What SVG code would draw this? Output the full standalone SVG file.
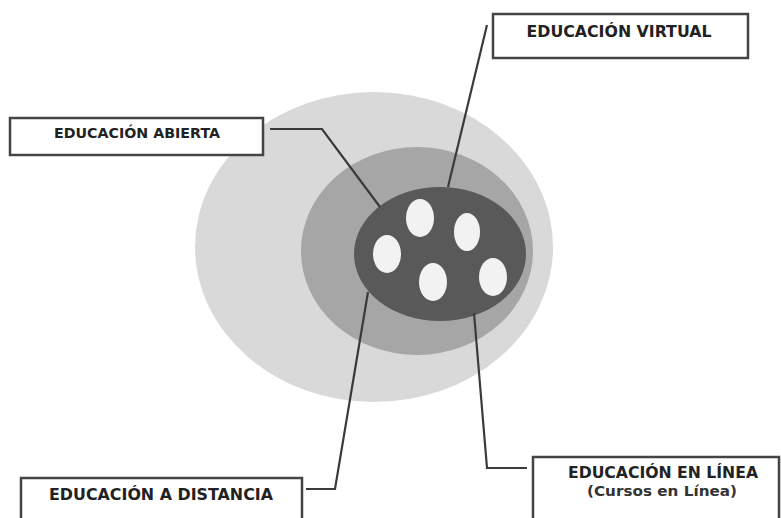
<svg xmlns="http://www.w3.org/2000/svg" width="781" height="518" viewBox="0 0 781 518">
<style>
.box{fill:#ffffff;stroke:#444444;stroke-width:2.5}
.lbl{font-family:"DejaVu Sans","Liberation Sans",sans-serif;font-weight:bold;fill:#222222;text-anchor:middle}
.sub{font-family:"DejaVu Sans","Liberation Sans",sans-serif;font-weight:bold;fill:#333333;text-anchor:middle}
.con{fill:none;stroke:#3a3a3a;stroke-width:2.2;stroke-linejoin:miter}
.spot{fill:#f2f2f2}
</style>
<rect width="781" height="518" fill="#ffffff"/>
<g id="circles">
<ellipse cx="374" cy="247" rx="179" ry="155" fill="#d9d9d9"/>
<ellipse cx="417" cy="251" rx="116" ry="104" fill="#a6a6a6"/>
<ellipse cx="440" cy="254" rx="86" ry="67" fill="#595959"/>
<ellipse class="spot" cx="420" cy="218" rx="14" ry="19"/>
<ellipse class="spot" cx="467" cy="232" rx="13" ry="19"/>
<ellipse class="spot" cx="387" cy="254" rx="14" ry="19"/>
<ellipse class="spot" cx="433" cy="282" rx="14" ry="19"/>
<ellipse class="spot" cx="493" cy="277" rx="14" ry="19"/>
</g>
<g id="connectors">
<polyline class="con" points="270,129 322,129 380,207"/>
<polyline class="con" points="487,25 448,187"/>
<polyline class="con" points="306,489 335,489 368,292"/>
<polyline class="con" points="474,313 487,468 527,468"/>
</g>
<g id="node-abierta">
<rect class="box" x="10" y="118" width="253" height="37"/>
<text class="lbl" x="137" y="138" font-size="13.5" textLength="166" lengthAdjust="spacingAndGlyphs">EDUCACIÓN ABIERTA</text>
</g>
<g id="node-virtual">
<rect class="box" x="493" y="14" width="255" height="44"/>
<text class="lbl" x="619" y="37" font-size="15" textLength="185" lengthAdjust="spacingAndGlyphs">EDUCACIÓN VIRTUAL</text>
</g>
<g id="node-distancia">
<rect class="box" x="21" y="478" width="281" height="50"/>
<text class="lbl" x="161" y="500" font-size="15" textLength="224" lengthAdjust="spacingAndGlyphs">EDUCACIÓN A DISTANCIA</text>
</g>
<g id="node-linea">
<rect class="box" x="533" y="457" width="246" height="70"/>
<text class="lbl" x="663" y="478" font-size="15" textLength="190" lengthAdjust="spacingAndGlyphs">EDUCACIÓN EN LÍNEA</text>
<text class="sub" x="662" y="496" font-size="14" textLength="150" lengthAdjust="spacingAndGlyphs">(Cursos en Línea)</text>
</g>
</svg>
